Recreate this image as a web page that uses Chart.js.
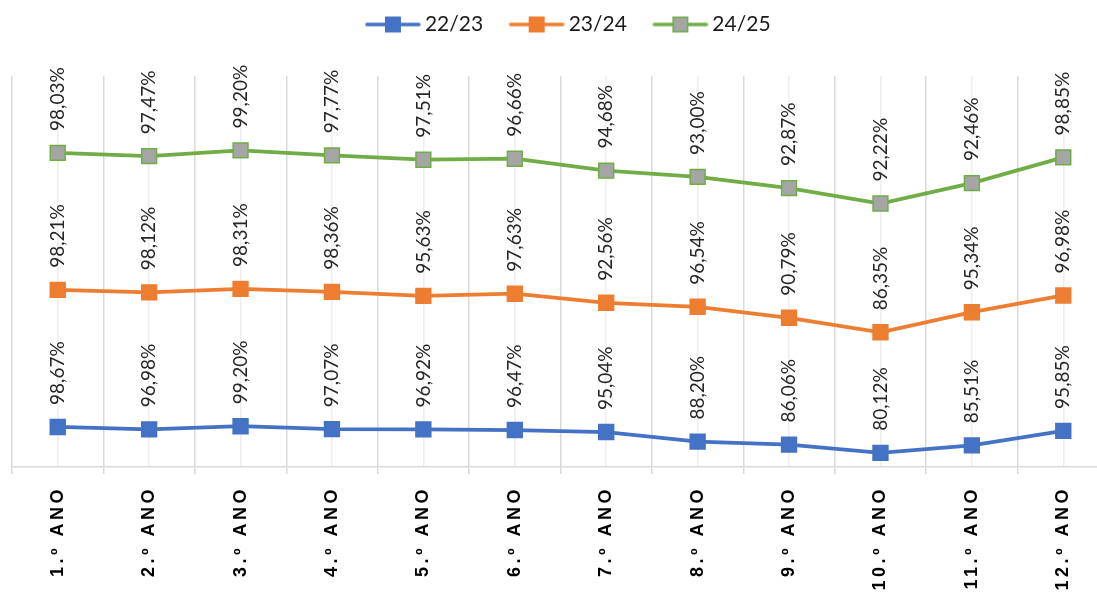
<!DOCTYPE html>
<html>
<head>
<meta charset="utf-8">
<script src="https://cdn.jsdelivr.net/npm/chart.js@4.4.1/dist/chart.umd.min.js"></script>
<style>
  html, body { margin: 0; padding: 0; background: #fff; overflow: hidden; }
  #wrap { width: 1122px; height: 597px; }
</style>
</head>
<body>
<div id="wrap"><canvas id="myChart" width="1122" height="597"></canvas></div>
<script>
const categories = ['1.º ANO', '2.º ANO', '3.º ANO', '4.º ANO', '5.º ANO', '6.º ANO',
  '7.º ANO', '8.º ANO', '9.º ANO', '10.º ANO', '11.º ANO', '12.º ANO'];
const seriesNames = ['22/23', '23/24', '24/25'];
const values2223 = [98.67, 96.98, 99.20, 97.07, 96.92, 96.47, 95.04, 88.20, 86.06, 80.12, 85.51, 95.85];
const values2324 = [98.21, 98.12, 98.31, 98.36, 95.63, 97.63, 92.56, 96.54, 90.79, 86.35, 95.34, 96.98];
const values2425 = [98.03, 97.47, 99.20, 97.77, 97.51, 96.66, 94.68, 93.00, 92.87, 92.22, 92.46, 98.85];

const blue = '#4472C4', orange = '#ED7D31', green = '#70AD47', grey = '#A5A5A5';

// legend mark: line with a square on it (drawn off-centre to leave a gap before each item)
function legendMark(line, fill, border) {
  const c = document.createElement('canvas');
  c.width = 100; c.height = 18;
  const g = c.getContext('2d');
  const x0 = 33;
  g.strokeStyle = line; g.lineWidth = 3.5; g.lineCap = 'round';
  g.beginPath(); g.moveTo(x0 + 2, 9); g.lineTo(x0 + 54, 9); g.stroke();
  g.fillStyle = fill; g.fillRect(x0 + 20.5, 1.5, 15, 15);
  g.strokeStyle = border; g.lineWidth = 1.5; g.strokeRect(x0 + 20.75, 1.75, 14.5, 14.5);
  return c;
}
const marks = [legendMark(blue, blue, blue), legendMark(orange, orange, orange), legendMark(green, grey, green)];

// value labels, rotated, above each point
const valueLabels = {
  id: 'valueLabels',
  afterDatasetsDraw(chart) {
    const ctx = chart.ctx;
    ctx.save();
    ctx.font = '19px Lato';
    ctx.fillStyle = '#262626';
    ctx.textAlign = 'left';
    ctx.textBaseline = 'middle';
    chart.data.datasets.forEach((ds, di) => {
      chart.getDatasetMeta(di).data.forEach((pt, i) => {
        ctx.save();
        ctx.translate(pt.x, pt.y - 22);
        ctx.rotate(-Math.PI / 2);
        ctx.fillText(ds.data[i].toFixed(2).replace('.', ',') + '%', 0, 0);
        ctx.restore();
      });
    });
    ctx.restore();
  }
};

// wide letter spacing on the category labels
const spacedTicks = {
  id: 'spacedTicks',
  afterLayout(chart) {
    const sx = chart.scales.x;
    if (sx._spaced) return;
    const draw = sx.drawLabels;
    sx.drawLabels = function (area) {
      this.ctx.save();
      this.ctx.letterSpacing = '3.5px';
      draw.call(this, area);
      this.ctx.restore();
    };
    sx._spaced = true;
  }
};

function lineSet(label, data, color, fill) {
  return {
    label: label,
    data: data,
    xAxisID: 'x',
    borderColor: color,
    backgroundColor: color,
    borderWidth: 3.8,
    tension: 0,
    pointStyle: 'rect',
    pointRadius: 10.5,
    pointHoverRadius: 10.5,
    pointBackgroundColor: fill,
    pointBorderColor: color,
    pointBorderWidth: 1.5
  };
}

const ctx = document.getElementById('myChart');
new Chart(ctx, {
  type: 'line',
  data: {
    labels: categories,
    datasets: [
      lineSet(seriesNames[0], values2223, blue, blue),
      lineSet(seriesNames[1], values2324, orange, orange),
      lineSet(seriesNames[2], values2425, green, grey)
    ]
  },
  options: {
    responsive: false,
    animation: false,
    layout: { padding: { left: 11, right: 13, top: 4, bottom: 0 } },
    plugins: {
      tooltip: { enabled: false },
      legend: {
        position: 'top',
        labels: {
          usePointStyle: true,
          pointStyleWidth: 65,
          padding: 10,
          color: '#1a1a1a',
          font: { family: 'Lato', size: 21 },
          generateLabels(chart) {
            const items = Chart.defaults.plugins.legend.labels.generateLabels(chart);
            items.forEach((it, i) => { it.pointStyle = marks[i]; });
            return items;
          }
        }
      }
    },
    scales: {
      x: {
        offset: true,
        grid: { offset: true, color: '#D9D9D9', lineWidth: 1.5, tickLength: 7 },
        border: { color: '#D9D9D9', width: 1.5 },
        ticks: {
          color: '#000',
          font: { family: 'Liberation Sans', size: 18, weight: 'bold' },
          minRotation: 90,
          maxRotation: 90,
          autoSkip: false,
          padding: 12
        },
        afterFit(scale) { scale.height = 130; }
      },
      x2: {
        type: 'category',
        labels: categories,
        position: 'top',
        offset: true,
        grid: { offset: false, color: '#EEEEEE', lineWidth: 1.5, drawTicks: false },
        border: { display: false },
        ticks: { display: false },
        afterFit(scale) { scale.height = 31; }
      },
      y: {
        display: false,
        stacked: true,
        min: 70,
        max: 350
      }
    }
  },
  plugins: [valueLabels, spacedTicks]
});
</script>
</body>
</html>
